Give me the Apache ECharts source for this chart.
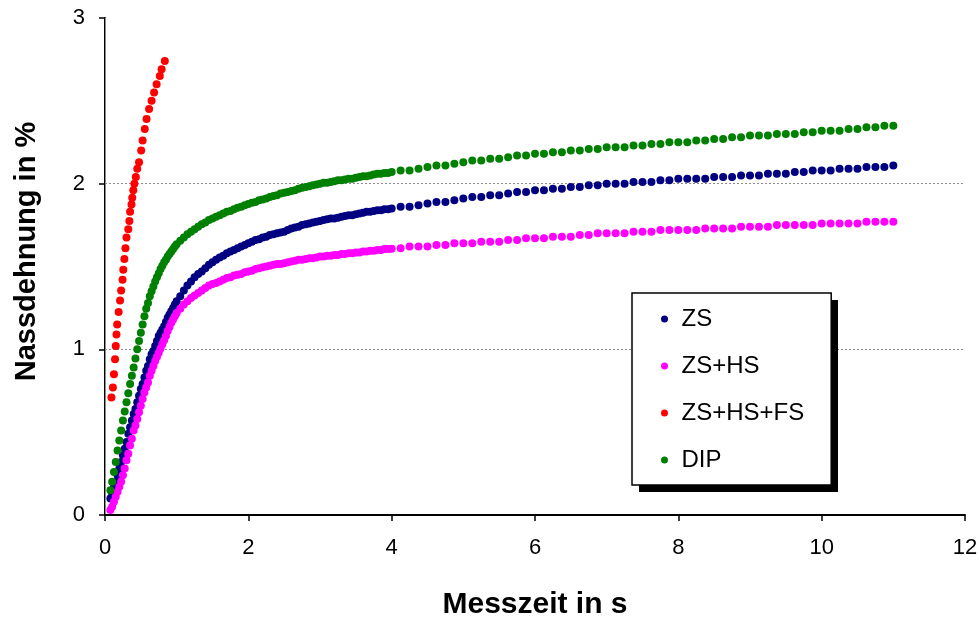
<!DOCTYPE html>
<html><head><meta charset="utf-8">
<script src="https://cdn.jsdelivr.net/npm/echarts/dist/echarts.min.js"></script>
<style>html,body{margin:0;padding:0;background:#fff}#c{width:980px;height:619px}</style>
</head><body><div id="c"></div>
<script>
const seriesNames = ['ZS', 'ZS+HS', 'ZS+HS+FS', 'DIP'];
const seriesColors = ['#000080', '#FF00FF', '#FF0000', '#008000'];
const xTitle = 'Messzeit in s';
const yTitle = 'Nassdehnung in %';
const gridValues = [1, 2];

// shared measurement times (s) for ZS, ZS+HS, DIP
const timeS = [
  0.075,0.1,0.125,0.15,0.175,0.2,0.225,0.25,0.275,0.3,0.325,0.35,0.375,0.4,0.425,0.45,0.475,0.5,0.525,0.55,
  0.575,0.6,0.625,0.65,0.675,0.7,0.725,0.75,0.775,0.8,0.825,0.85,0.875,0.9,0.925,0.95,0.975,1.0,
  1.05,1.1,1.15,1.2,1.25,1.3,1.35,1.4,1.45,1.5,1.55,1.6,1.65,1.7,1.75,1.8,1.85,1.9,1.95,2.0,
  2.05,2.1,2.15,2.2,2.25,2.3,2.35,2.4,2.45,2.5,2.55,2.6,2.65,2.7,2.75,2.8,2.85,2.9,2.95,3.0,
  3.05,3.1,3.15,3.2,3.25,3.3,3.35,3.4,3.45,3.5,3.55,3.6,3.65,3.7,3.75,3.8,3.85,3.9,3.95,4.0,
  4.125,4.25,4.375,4.5,4.625,4.75,4.875,5.0,
  5.125,5.25,5.375,5.5,5.625,5.75,5.875,6.0,
  6.125,6.25,6.375,6.5,6.625,6.75,6.875,7.0,
  7.125,7.25,7.375,7.5,7.625,7.75,7.875,8.0,
  8.125,8.25,8.375,8.5,8.625,8.75,8.875,9.0,
  9.125,9.25,9.375,9.5,9.625,9.75,9.875,10.0,
  10.125,10.25,10.375,10.5,10.625,10.75,10.875,11.0
];

const valZS = [
  0.10,0.13,0.17,0.20,0.24,0.28,0.32,0.36,0.40,0.44,0.49,0.53,0.57,0.61,0.64,0.68,0.72,0.76,0.79,0.83,
  0.87,0.90,0.94,0.97,0.99,1.02,1.05,1.08,1.10,1.12,1.14,1.165,1.19,1.21,1.23,1.25,1.27,1.29,
  1.32,1.355,1.385,1.41,1.435,1.455,1.47,1.49,1.51,1.525,1.54,1.555,1.565,1.58,1.59,1.60,1.61,1.62,1.63,1.64,
  1.65,1.66,1.665,1.675,1.68,1.69,1.695,1.70,1.705,1.71,1.72,1.73,1.735,1.74,1.75,1.755,1.76,1.765,1.77,1.775,
  1.78,1.785,1.79,1.79,1.795,1.80,1.805,1.81,1.81,1.815,1.82,1.825,1.83,1.83,1.835,1.84,1.84,1.845,1.845,1.85,
  1.86,1.86,1.87,1.88,1.89,1.89,1.90,1.91,
  1.92,1.92,1.93,1.93,1.94,1.95,1.95,1.96,
  1.96,1.97,1.97,1.98,1.98,1.99,1.99,2.00,
  2.00,2.00,2.01,2.01,2.01,2.02,2.02,2.03,
  2.03,2.03,2.03,2.04,2.04,2.04,2.05,2.05,
  2.05,2.06,2.06,2.06,2.07,2.07,2.08,2.08,
  2.08,2.09,2.09,2.09,2.10,2.10,2.10,2.11
];

const valZSHS = [
  0.03,0.05,0.08,0.11,0.14,0.17,0.20,0.24,0.28,0.33,0.37,0.42,0.46,0.51,0.54,0.58,0.62,0.66,0.70,0.74,
  0.77,0.80,0.84,0.87,0.90,0.93,0.955,0.98,1.005,1.03,1.055,1.08,1.11,1.135,1.16,1.18,1.20,1.22,
  1.245,1.27,1.29,1.31,1.325,1.34,1.355,1.37,1.385,1.395,1.40,1.41,1.42,1.43,1.435,1.445,1.45,1.455,1.465,1.47,
  1.475,1.485,1.49,1.495,1.50,1.505,1.51,1.515,1.515,1.52,1.525,1.53,1.535,1.54,1.54,1.545,1.55,1.55,1.555,1.56,
  1.56,1.565,1.565,1.57,1.57,1.575,1.575,1.58,1.58,1.585,1.585,1.59,1.59,1.595,1.595,1.60,1.60,1.605,1.605,1.607,
  1.61,1.62,1.62,1.62,1.63,1.63,1.64,1.64,
  1.64,1.65,1.65,1.65,1.66,1.66,1.67,1.67,
  1.67,1.68,1.68,1.68,1.69,1.69,1.70,1.70,
  1.70,1.70,1.71,1.71,1.71,1.72,1.72,1.72,
  1.72,1.72,1.73,1.73,1.73,1.73,1.74,1.74,
  1.74,1.74,1.75,1.75,1.75,1.75,1.75,1.76,
  1.76,1.76,1.76,1.76,1.77,1.77,1.77,1.77
];

const valDIP = [
  0.15,0.20,0.26,0.32,0.39,0.45,0.51,0.57,0.625,0.68,0.735,0.79,0.84,0.89,0.945,1.00,1.05,1.10,1.15,1.20,
  1.245,1.28,1.32,1.35,1.38,1.41,1.435,1.46,1.485,1.505,1.525,1.54,1.56,1.575,1.59,1.605,1.62,1.635,
  1.655,1.675,1.695,1.71,1.725,1.74,1.755,1.765,1.78,1.79,1.80,1.81,1.82,1.83,1.835,1.845,1.855,1.86,1.87,1.877,
  1.885,1.89,1.90,1.905,1.91,1.92,1.925,1.93,1.94,1.945,1.95,1.955,1.96,1.97,1.975,1.98,1.985,1.99,1.995,2.0,
  2.005,2.005,2.01,2.015,2.02,2.02,2.025,2.03,2.03,2.035,2.04,2.045,2.045,2.05,2.055,2.06,2.06,2.065,2.065,2.07,
  2.08,2.08,2.09,2.10,2.11,2.11,2.12,2.13,
  2.14,2.14,2.15,2.15,2.16,2.17,2.17,2.18,
  2.18,2.19,2.19,2.20,2.20,2.21,2.21,2.22,
  2.22,2.22,2.23,2.23,2.24,2.24,2.25,2.25,
  2.25,2.26,2.26,2.27,2.27,2.28,2.28,2.29,
  2.29,2.29,2.30,2.30,2.30,2.31,2.31,2.32,
  2.32,2.32,2.33,2.33,2.34,2.34,2.35,2.35
];

// ZS+HS+FS has its own (short) time base
const timeFS = [
  0.09,0.11,0.125,0.14,0.15,0.16,0.17,0.19,0.21,0.225,0.245,0.255,0.27,0.285,0.30,0.325,0.34,0.35,
  0.37,0.38,0.395,0.41,0.43,0.45,0.475,0.505,0.525,0.555,0.58,0.615,0.65,0.685,0.72,0.765,0.79,0.835
];
const valFS = [
  0.71,0.77,0.85,0.94,1.02,1.09,1.15,1.225,1.295,1.355,1.42,1.48,1.545,1.61,1.675,1.725,1.775,1.83,
  1.875,1.915,1.96,2.0,2.04,2.09,2.13,2.20,2.26,2.33,2.39,2.45,2.50,2.55,2.60,2.65,2.69,2.74
];

const FONT = '"Liberation Sans", Arial, sans-serif';
const pairs = (t, v) => t.map((x, i) => [x, v[i]]);
const seriesData = [pairs(timeS, valZS), pairs(timeS, valZSHS), pairs(timeFS, valFS), pairs(timeS, valDIP)];

const chart = echarts.init(document.getElementById('c'), null, { renderer: 'canvas' });

const series = [{
  name: 'gridlines', type: 'line', data: [], z: 1, silent: true,
  markLine: {
    silent: true, z: 1, symbol: ['none', 'none'], label: { show: false },
    lineStyle: { color: '#8c8c8c', type: [2, 2], width: 1 },
    data: gridValues.map(v => ({ yAxis: v }))
  }
}];
seriesNames.forEach((n, i) => {
  series.push({
    name: n, type: 'scatter', symbol: 'circle', symbolSize: 8,
    itemStyle: { color: seriesColors[i], opacity: 1 },
    data: seriesData[i], z: 3 + i
  });
});

chart.setOption({
  animation: false,
  backgroundColor: '#fff',
  textStyle: { fontFamily: FONT },
  grid: { left: 105, right: 15, top: 18, bottom: 104, containLabel: false, outerBoundsMode: 'none' },
  xAxis: {
    type: 'value', min: 0, max: 12, interval: 2,
    axisLine: { show: true, onZero: false, lineStyle: { color: '#000', width: 2 } },
    axisTick: { show: true, inside: false, length: 6, lineStyle: { color: '#000', width: 1.5 } },
    axisLabel: { fontSize: 22, color: '#000', margin: 22, fontFamily: FONT },
    splitLine: { show: false },
    name: xTitle, nameLocation: 'middle', nameGap: 75,
    nameTextStyle: { fontSize: 30, fontWeight: 'bold', color: '#000', fontFamily: FONT }
  },
  yAxis: [{
    type: 'value', min: 0, max: 3, interval: 1,
    axisLine: { show: true, onZero: false, lineStyle: { color: '#000', width: 2 } },
    axisTick: { show: true, inside: false, length: 6, lineStyle: { color: '#000', width: 1.5 } },
    axisLabel: { fontSize: 22, color: '#000', margin: 20, fontFamily: FONT },
    splitLine: { show: false },
    name: yTitle, nameLocation: 'middle', nameGap: 64, nameRotate: 90,
    nameTextStyle: { fontSize: 29, fontWeight: 'bold', color: '#000', fontFamily: FONT, padding: [0, 0, 0, 30] }
  }, {
    type: 'value', min: 0, max: 3, interval: 1, position: 'right',
    axisLine: { show: true, lineStyle: { color: '#8c8c8c', width: 1 } },
    axisTick: { show: false }, axisLabel: { show: false }, splitLine: { show: false }
  }],
  legend: {
    data: seriesNames, orient: 'vertical', left: 632, top: 293, z: 10,
    padding: [14, 27, 13, 29], itemGap: 23, itemWidth: 24, itemHeight: 7,
    icon: 'circle', selectedMode: false,
    textStyle: { fontSize: 24, lineHeight: 24, color: '#000', fontFamily: FONT },
    backgroundColor: '#fff', borderColor: '#000', borderWidth: 1.5, borderRadius: 0
  },
  graphic: [{
    type: 'rect', z: 9, silent: true,
    shape: { x: 639, y: 300, width: 199, height: 192 },
    style: { fill: '#000' }
  }],
  series: series
});
</script>
</body></html>
